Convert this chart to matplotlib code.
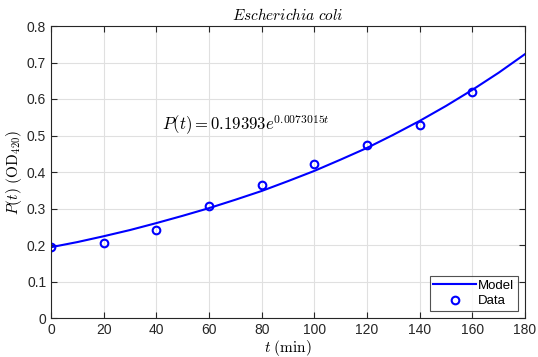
import numpy as np
import matplotlib
matplotlib.use("Agg")
import matplotlib.pyplot as plt

plt.rcParams.update({
    'font.family': ['Liberation Sans', 'DejaVu Sans'],
    'mathtext.fontset': 'cm',
    'font.size': 10,
    'axes.linewidth': 0.8,
})

# measured data
t_data = [0, 20, 40, 60, 80, 100, 120, 140, 160]
p_data = [0.195, 0.205, 0.241, 0.307, 0.364, 0.422, 0.474, 0.528, 0.619]

# model curve
t_model = [0, 10, 20, 30, 40, 50, 60, 70, 80, 90, 100, 110, 120, 130, 140, 150, 160, 170, 180]
p_model = [0.194, 0.208, 0.224, 0.241, 0.260, 0.280, 0.301, 0.324, 0.348, 0.375,
           0.403, 0.434, 0.466, 0.502, 0.540, 0.581, 0.625, 0.672, 0.723]

xticks = [0, 20, 40, 60, 80, 100, 120, 140, 160, 180]
yticks = [0, 0.1, 0.2, 0.3, 0.4, 0.5, 0.6, 0.7, 0.8]

fig = plt.figure(figsize=(5.38, 3.57), dpi=100)
ax = fig.add_axes([51 / 538, 1 - 318 / 357, 474 / 538, 292 / 357])

ax.plot(t_model, p_model, color='#0000ff', linewidth=1.5, label='Model')
ax.plot(t_data, p_data, 'o', markerfacecolor='none', markeredgecolor='#0000ff',
        markeredgewidth=1.5, markersize=5.5, label='Data')

ax.set_xlim(0, 180)
ax.set_ylim(0, 0.8)
ax.set_xticks(xticks)
ax.set_yticks(yticks)
ax.set_yticklabels(['0', '0.1', '0.2', '0.3', '0.4', '0.5', '0.6', '0.7', '0.8'])
ax.grid(True, color='#e0e0e0', linewidth=0.8)
ax.set_axisbelow(True)
ax.tick_params(direction='in', top=True, right=True, colors='#262626',
               labelsize=10, length=4)
for s in ax.spines.values():
    s.set_color('#262626')

ax.set_title(r'$Escherichia\ coli$', fontsize=11, pad=4)
ax.set_xlabel(r'$t\ (\mathrm{min})$', fontsize=11, labelpad=1)
ax.set_ylabel(r'$P(t)\ (\mathrm{OD}_{420})$', fontsize=11, labelpad=2)

ax.text(42, 0.53, r'$P(t) = 0.19393e^{0.0073015t}$', fontsize=12,
        va='center', ha='left')

leg = ax.legend(loc='lower right', fancybox=False, edgecolor='#262626',
                fontsize=9.5, borderaxespad=0.5, handlelength=3.2,
                borderpad=0.3, labelspacing=0.25, handletextpad=0.2)
leg.get_frame().set_linewidth(0.8)

fig.savefig('out.png', dpi=100)
